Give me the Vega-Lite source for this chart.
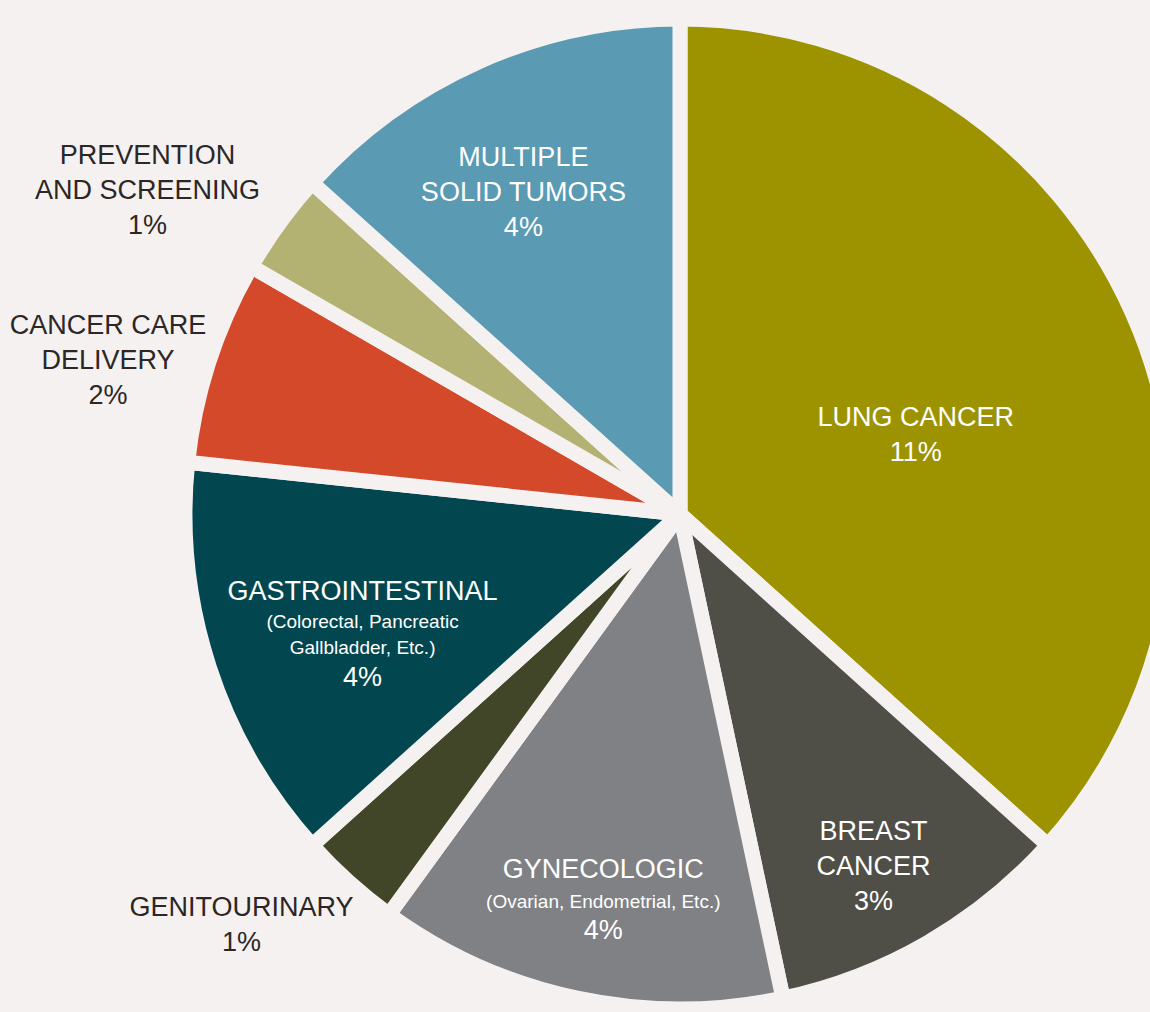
{
  "$schema": "https://vega.github.io/schema/vega-lite/v6.json",
  "autosize": {"type": "none"},
  "width": 940,
  "height": 996,
  "padding": {"left": 210, "top": 16, "right": 0, "bottom": 0},
  "background": "#f5f1f0",
  "view": {"stroke": null},
  "config": {"text": {"font": "Liberation Sans", "fontSize": 27, "lineHeight": 35, "align": "center", "baseline": "middle"}},
  "data": {
    "values": [
      {"idx": 1, "category": "Lung Cancer", "value": 11, "label": ["LUNG CANCER", "11%"], "sub": null, "pct": "11%"},
      {"idx": 2, "category": "Breast Cancer", "value": 3, "label": ["BREAST", "CANCER", "3%"], "sub": null, "pct": "3%"},
      {"idx": 3, "category": "Gynecologic", "value": 4, "label": ["GYNECOLOGIC"], "sub": ["(Ovarian, Endometrial, Etc.)"], "pct": "4%"},
      {"idx": 4, "category": "Genitourinary", "value": 1, "label": ["GENITOURINARY", "1%"], "sub": null, "pct": "1%"},
      {"idx": 5, "category": "Gastrointestinal", "value": 4, "label": ["GASTROINTESTINAL"], "sub": ["(Colorectal, Pancreatic", "Gallbladder, Etc.)"], "pct": "4%"},
      {"idx": 6, "category": "Cancer Care Delivery", "value": 2, "label": ["CANCER CARE", "DELIVERY", "2%"], "sub": null, "pct": "2%"},
      {"idx": 7, "category": "Prevention and Screening", "value": 1, "label": ["PREVENTION", "AND SCREENING", "1%"], "sub": null, "pct": "1%"},
      {"idx": 8, "category": "Multiple Solid Tumors", "value": 4, "label": ["MULTIPLE", "SOLID TUMORS", "4%"], "sub": null, "pct": "4%"}
    ]
  },
  "encoding": {
    "theta": {"field": "value", "type": "quantitative", "stack": true},
    "order": {"field": "idx", "type": "quantitative", "sort": "ascending"}
  },
  "layer": [
    {
      "mark": {"type": "arc", "radius": 495, "stroke": "#f5f1f0", "strokeWidth": 15, "strokeJoin": "round"},
      "encoding": {
        "color": {
          "field": "category", "type": "nominal", "legend": null,
          "scale": {
            "domain": ["Lung Cancer", "Breast Cancer", "Gynecologic", "Genitourinary", "Gastrointestinal", "Cancer Care Delivery", "Prevention and Screening", "Multiple Solid Tumors"],
            "range": ["#9d9300", "#4f4f48", "#808185", "#424628", "#02474f", "#d4492a", "#b3b273", "#5a9ab2"]
          }
        }
      }
    },
    {
      "mark": {"type": "text", "radius": 247, "dx": 10, "dy": 4, "fill": "#ffffff"},
      "encoding": {"text": {"condition": {"test": "datum.idx === 1", "field": "label", "type": "nominal"}, "value": ""}}
    },
    {
      "mark": {"type": "text", "radius": 401, "dx": -7, "dy": -29, "fill": "#ffffff"},
      "encoding": {"text": {"condition": {"test": "datum.idx === 2", "field": "label", "type": "nominal"}, "value": ""}}
    },
    {
      "mark": {"type": "text", "radius": 393, "dx": 5, "dy": -28, "fill": "#ffffff"},
      "encoding": {"text": {"condition": {"test": "datum.idx === 3", "field": "label", "type": "nominal"}, "value": ""}}
    },
    {
      "mark": {"type": "text", "radius": 393, "dx": 5, "dy": 4, "fill": "#ffffff", "fontSize": 19, "lineHeight": 26},
      "encoding": {"text": {"condition": {"test": "datum.idx === 3", "field": "sub", "type": "nominal"}, "value": ""}}
    },
    {
      "mark": {"type": "text", "radius": 393, "dx": 5, "dy": 33, "fill": "#ffffff"},
      "encoding": {"text": {"condition": {"test": "datum.idx === 3", "field": "pct", "type": "nominal"}, "value": ""}}
    },
    {
      "mark": {"type": "text", "radius": 597, "dx": -39, "dy": -50, "fill": "#2b2726"},
      "encoding": {"text": {"condition": {"test": "datum.idx === 4", "field": "label", "type": "nominal"}, "value": ""}}
    },
    {
      "mark": {"type": "text", "radius": 339, "dx": 5, "dy": -27, "fill": "#ffffff"},
      "encoding": {"text": {"condition": {"test": "datum.idx === 5", "field": "label", "type": "nominal"}, "value": ""}}
    },
    {
      "mark": {"type": "text", "radius": 339, "dx": 5, "dy": 3, "fill": "#ffffff", "fontSize": 19, "lineHeight": 26},
      "encoding": {"text": {"condition": {"test": "datum.idx === 5", "field": "sub", "type": "nominal"}, "value": ""}}
    },
    {
      "mark": {"type": "text", "radius": 339, "dx": 5, "dy": 59, "fill": "#ffffff"},
      "encoding": {"text": {"condition": {"test": "datum.idx === 5", "field": "pct", "type": "nominal"}, "value": ""}}
    },
    {
      "mark": {"type": "text", "radius": 592, "dx": -9, "dy": -5, "fill": "#2b2726"},
      "encoding": {"text": {"condition": {"test": "datum.idx === 6", "field": "label", "type": "nominal"}, "value": ""}}
    },
    {
      "mark": {"type": "text", "radius": 621, "dx": -30, "dy": 7, "fill": "#2b2726"},
      "encoding": {"text": {"condition": {"test": "datum.idx === 7", "field": "label", "type": "nominal"}, "value": ""}}
    },
    {
      "mark": {"type": "text", "radius": 358, "dx": -11, "dy": -29, "fill": "#ffffff"},
      "encoding": {"text": {"condition": {"test": "datum.idx === 8", "field": "label", "type": "nominal"}, "value": ""}}
    }
  ]
}
